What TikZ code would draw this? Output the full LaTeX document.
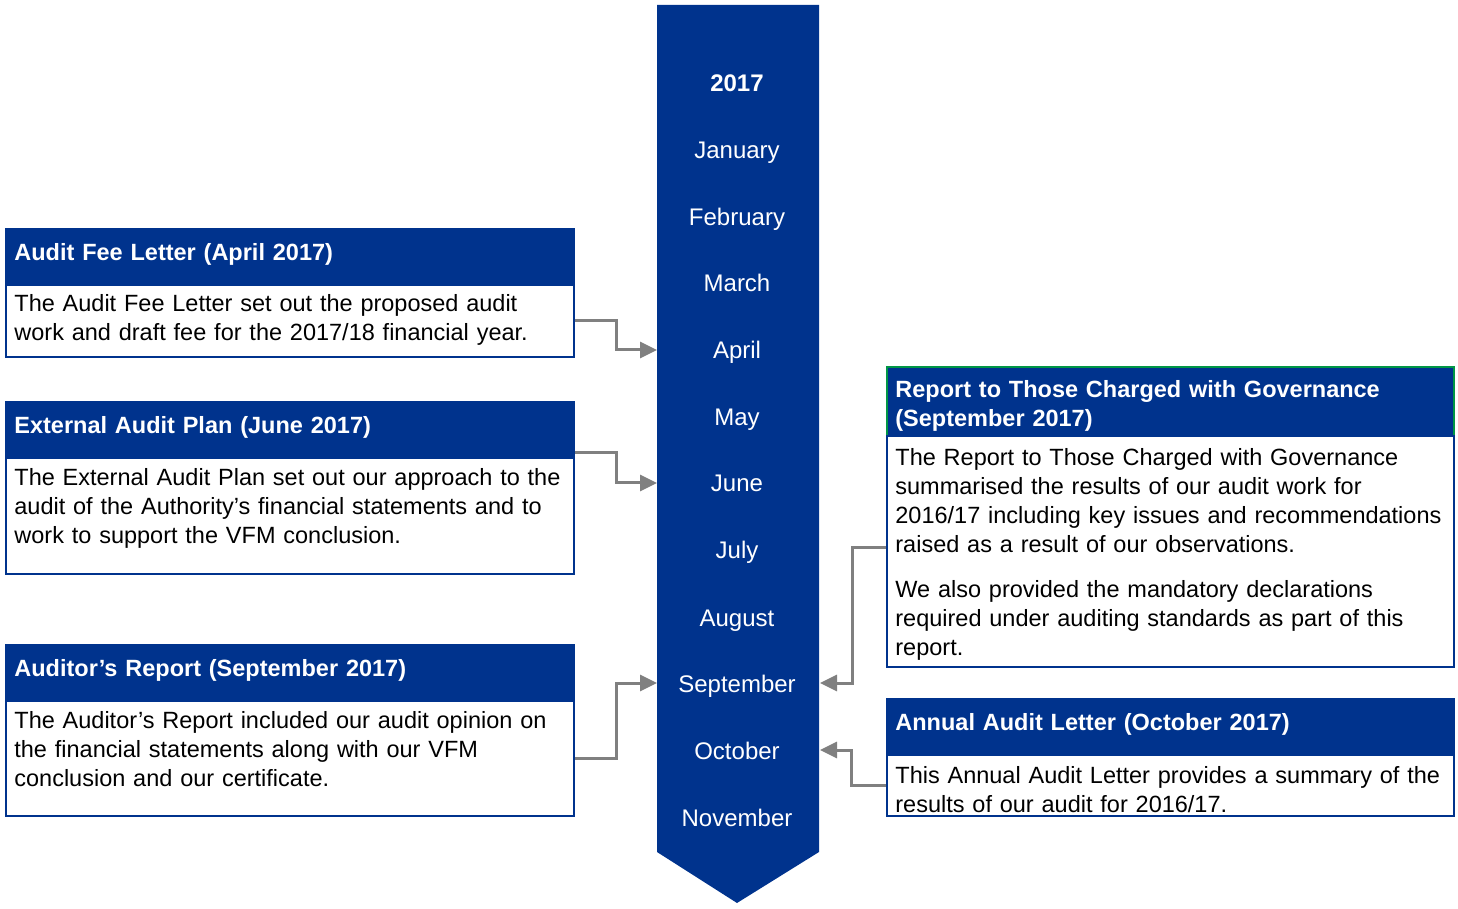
\documentclass[tikz,border=0pt]{standalone}
\usepackage{fontspec}
\setmainfont{Liberation Sans}
\usetikzlibrary{arrows.meta,fit,calc}
\definecolor{kblue}{RGB}{0,51,141}
\definecolor{kgreen}{RGB}{0,150,70}
\definecolor{kgrey}{RGB}{128,128,128}

\begin{document}
\begin{tikzpicture}[x=0.5pt,y=-0.5pt,
  hdrbox/.style={fill=kblue, draw=kblue, line width=1pt, inner sep=0pt},
  bodybox/.style={fill=white, draw=kblue, line width=1pt, inner sep=0pt},
  txt/.style={anchor=base west, inner sep=0pt, text width=320pt, align=left,
    font=\fontsize{11.75pt}{14.5pt}\selectfont},
  hdrtext/.style={txt, text=white, font=\fontsize{11.75pt}{14.5pt}\selectfont\bfseries},
  bodytext/.style={txt, text=black},
  month/.style={anchor=base, inner sep=0pt, text=white,
    font=\fontsize{12pt}{14.5pt}\selectfont},
  conn/.style={draw=kgrey, line width=1.5pt, -{Triangle[length=8.5pt,width=8pt]}}
]
\useasboundingbox (0,0) rectangle (1458,909);

% timeline banner
\fill[kblue] (657,5) -- (819,5) -- (819,852) -- (737,903) -- (657,852) -- cycle;
\coordinate (bl) at (657,0);
\coordinate (br) at (820,0);

\node[month, font=\fontsize{12pt}{14.5pt}\selectfont\bfseries] (y2017) at (737,92) {2017};
\node[month] (jan) at (737,159) {January};
\node[month] (feb) at (737,226) {February};
\node[month] (mar) at (737,292) {March};
\node[month] (apr) at (737,359) {April};
\node[month] (may) at (737,426) {May};
\node[month] (jun) at (737,492) {June};
\node[month] (jul) at (737,559) {July};
\node[month] (aug) at (737,626) {August};
\node[month] (sep) at (737,692) {September};
\node[month] (oct) at (737,759) {October};
\node[month] (nov) at (737,826) {November};

% arrow targets on the banner edges
\coordinate (tApr) at ($(bl |- apr.base)+(0,-9)$);
\coordinate (tJun) at ($(bl |- jun.base)+(0,-9)$);
\coordinate (tSepL) at ($(bl |- sep.base)+(0,-9)$);
\coordinate (tSepR) at ($(br |- sep.base)+(0,-9)$);
\coordinate (tOctR) at ($(br |- oct.base)+(0,-9)$);

% Audit Fee Letter
\node[hdrbox, fit={(6,229)(574,285)}] (h1) {};
\node[bodybox, fit={(6,285)(574,357)}] (b1) {};
\node[hdrtext] (h1t) at (14,261) {Audit Fee Letter (April 2017)};
\node[bodytext] (b1t) at (14,312) {The Audit Fee Letter set out the proposed audit\\
work and draft fee for the 2017/18 financial year.};

% External Audit Plan
\node[hdrbox, fit={(6,402)(574,458)}] (h2) {};
\node[bodybox, fit={(6,458)(574,574)}] (b2) {};
\node[hdrtext] (h2t) at (14,434) {External Audit Plan (June 2017)};
\node[bodytext] (b2t) at (14,486) {The External Audit Plan set out our approach to the\\
audit of the Authority’s financial statements and to\\
work to support the VFM conclusion.};

% Auditor's Report
\node[hdrbox, fit={(6,645)(574,701)}] (h3) {};
\node[bodybox, fit={(6,701)(574,816)}] (b3) {};
\node[hdrtext] (h3t) at (14,676) {Auditor’s Report (September 2017)};
\node[bodytext] (b3t) at (14,728) {The Auditor’s Report included our audit opinion on\\
the financial statements along with our VFM\\
conclusion and our certificate.};

% Report to Those Charged with Governance
\node[hdrbox, draw=kgreen, fit={(887,367)(1454,436)}] (h4) {};
\node[bodybox, fit={(887,436)(1454,667)}] (b4) {};
\node[hdrtext] (h4t) at (895,398) {Report to Those Charged with Governance\\
(September 2017)};
\node[bodytext] (b4t) at (895,466) {The Report to Those Charged with Governance\\
summarised the results of our audit work for\\
2016/17 including key issues and recommendations\\
raised as a result of our observations.\\[8pt]
We also provided the mandatory declarations\\
required under auditing standards as part of this\\
report.};

% Annual Audit Letter
\node[hdrbox, fit={(887,699)(1454,755)}] (h5) {};
\node[bodybox, fit={(887,755)(1454,816)}] (b5) {};
\node[hdrtext] (h5t) at (895,730) {Annual Audit Letter (October 2017)};
\node[bodytext] (b5t) at (895,783) {This Annual Audit Letter provides a summary of the\\
results of our audit for 2016/17.};

% connectors
\draw[conn] (b1.east) -- ++(41,0) |- (tApr);
\draw[conn] ($(h2.south east)+(0,-6)$) -- ++(41,0) |- (tJun);
\draw[conn] (b3.east) -- ++(41,0) |- (tSepL);
\draw[conn] ($(b4.west)+(0,-4)$) -- ++(-34,0) |- (tSepR);
\draw[conn] (b5.west) -- ++(-35,0) |- (tOctR);
\end{tikzpicture}
\end{document}
